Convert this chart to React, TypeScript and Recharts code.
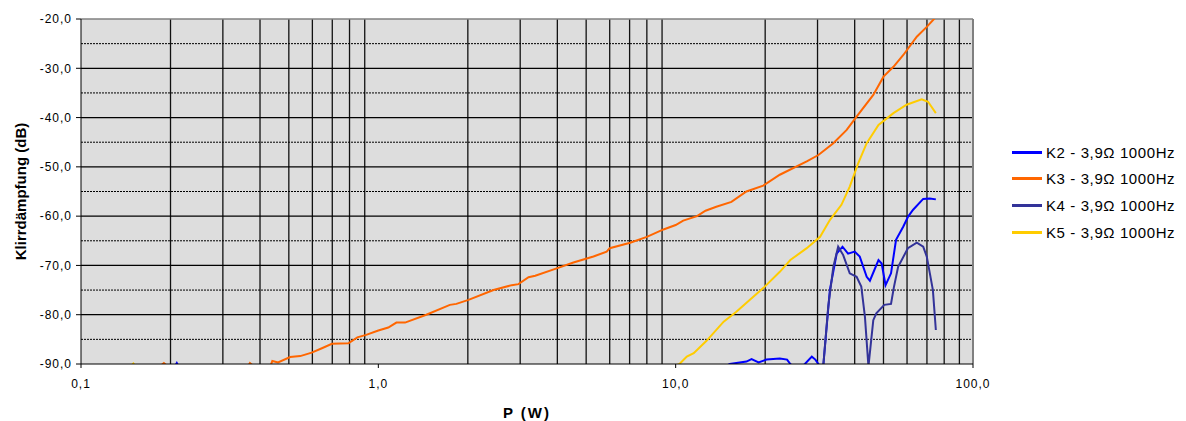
import React from 'react';
import { LineChart, Line, XAxis, YAxis, CartesianGrid, ReferenceLine, Legend } from 'recharts';

// Leistung (W) / Klirrdämpfung (dB)
const k2 = [
    { p: 0.1, db: -96 }, { p: 0.2, db: -92 }, { p: 0.21, db: -89.8 }, { p: 0.22, db: -92 }, { p: 10, db: -96 },
    { p: 15.2, db: -90 }, { p: 17.3, db: -89.5 }, { p: 18, db: -89.0 }, { p: 19, db: -89.7 }, { p: 20.2, db: -89.1 },
    { p: 22.4, db: -88.9 }, { p: 23.7, db: -89.1 }, { p: 24.3, db: -90 }, { p: 25.7, db: -91.5 }, { p: 27.2, db: -90 },
    { p: 28.7, db: -88.5 }, { p: 29.5, db: -89.1 }, { p: 30.2, db: -90 }, { p: 31.0, db: -91 }, { p: 31.4, db: -90 },
    { p: 33, db: -75 }, { p: 34.8, db: -67.6 }, { p: 36.4, db: -66.2 }, { p: 38.0, db: -67.6 }, { p: 40.0, db: -67.2 },
    { p: 41.6, db: -68.2 }, { p: 43.9, db: -72.3 }, { p: 45.0, db: -73.1 }, { p: 48.1, db: -68.9 }, { p: 49.3, db: -69.6 },
    { p: 50.8, db: -74.0 }, { p: 53.0, db: -71.6 }, { p: 55.1, db: -64.8 }, { p: 58.3, db: -62.1 }, { p: 60.5, db: -60.1 },
    { p: 62.9, db: -58.7 }, { p: 68.0, db: -56.5 }, { p: 71.6, db: -56.4 }, { p: 75.0, db: -56.6 },
];

const k3 = [
    { p: 0.1, db: -95 }, { p: 0.18, db: -91 }, { p: 0.19, db: -89.8 }, { p: 0.2, db: -91 }, { p: 0.3, db: -93 },
    { p: 0.36, db: -91 }, { p: 0.37, db: -89.8 }, { p: 0.39, db: -91 }, { p: 0.43, db: -91 }, { p: 0.44, db: -89.4 },
    { p: 0.46, db: -89.7 }, { p: 0.505, db: -88.6 }, { p: 0.546, db: -88.4 }, { p: 0.597, db: -87.7 }, { p: 0.646, db: -86.8 },
    { p: 0.698, db: -85.9 }, { p: 0.793, db: -85.8 }, { p: 0.85, db: -84.6 }, { p: 0.91, db: -84.1 }, { p: 1.0, db: -83.2 },
    { p: 1.08, db: -82.6 }, { p: 1.15, db: -81.6 }, { p: 1.23, db: -81.6 }, { p: 1.45, db: -80.0 }, { p: 1.74, db: -78.0 },
    { p: 1.83, db: -77.8 }, { p: 2.01, db: -77.0 }, { p: 2.44, db: -75.0 }, { p: 2.81, db: -74.0 }, { p: 2.96, db: -73.8 },
    { p: 3.2, db: -72.4 }, { p: 3.37, db: -72.1 }, { p: 3.98, db: -70.6 }, { p: 4.53, db: -69.4 }, { p: 5.29, db: -68.2 },
    { p: 5.86, db: -67.2 }, { p: 6.0, db: -66.5 }, { p: 7.03, db: -65.4 }, { p: 8.0, db: -64.2 }, { p: 9.1, db: -62.7 },
    { p: 10.0, db: -61.8 }, { p: 10.6, db: -60.9 }, { p: 11.8, db: -60.0 }, { p: 12.6, db: -58.9 }, { p: 13.7, db: -58.1 },
    { p: 15.4, db: -57.1 }, { p: 17.3, db: -55.0 }, { p: 19.7, db: -53.8 }, { p: 22.4, db: -51.6 }, { p: 27.6, db: -48.9 },
    { p: 30.2, db: -47.6 }, { p: 33.9, db: -45.2 }, { p: 37.6, db: -42.5 }, { p: 40.6, db: -39.8 }, { p: 46.2, db: -35.4 },
    { p: 50.0, db: -31.7 }, { p: 54.0, db: -29.7 }, { p: 58.3, db: -27.3 }, { p: 64.7, db: -23.6 }, { p: 69.9, db: -21.6 },
    { p: 75.0, db: -19.6 },
];

const k4 = [
    { p: 0.1, db: -97 }, { p: 20, db: -95 }, { p: 30, db: -93 }, { p: 31.4, db: -90 }, { p: 32.6, db: -78.3 },
    { p: 33.9, db: -70.3 }, { p: 35.2, db: -66.2 }, { p: 36.6, db: -67.9 }, { p: 38.5, db: -71.6 }, { p: 40.6, db: -72.3 },
    { p: 42.1, db: -74.3 }, { p: 43.3, db: -80.4 }, { p: 44.5, db: -90.5 }, { p: 46.2, db: -81.1 }, { p: 47.3, db: -79.7 },
    { p: 50.3, db: -78.0 }, { p: 53.0, db: -77.8 }, { p: 54.2, db: -74.4 }, { p: 56.0, db: -70.3 }, { p: 60.4, db: -66.5 },
    { p: 64.7, db: -65.4 }, { p: 68.0, db: -66.2 }, { p: 69.9, db: -68.2 }, { p: 71.6, db: -71.6 }, { p: 73.3, db: -75.0 },
    { p: 75.0, db: -83.1 },
];

const k5 = [
    { p: 0.1, db: -96 }, { p: 0.14, db: -92 }, { p: 0.15, db: -89.9 }, { p: 0.16, db: -92 }, { p: 5, db: -98 },
    { p: 10.3, db: -90 }, { p: 10.9, db: -88.5 }, { p: 11.5, db: -87.8 }, { p: 12.7, db: -85.3 }, { p: 14.5, db: -81.4 },
    { p: 16.0, db: -79.4 }, { p: 19.7, db: -74.6 }, { p: 22.4, db: -71.3 }, { p: 24.3, db: -68.9 }, { p: 27.6, db: -66.5 },
    { p: 30.6, db: -64.2 }, { p: 33.0, db: -60.8 }, { p: 36.1, db: -57.7 }, { p: 38.5, db: -54.0 }, { p: 41.1, db: -49.3 },
    { p: 43.9, db: -45.2 }, { p: 48.1, db: -41.5 }, { p: 54.0, db: -39.1 }, { p: 59.8, db: -37.4 }, { p: 67.2, db: -36.3 },
    { p: 70.6, db: -36.8 }, { p: 75.0, db: -39.1 },
];

const seriesNames = ['K2 - 3,9Ω 1000Hz', 'K3 - 3,9Ω 1000Hz', 'K4 - 3,9Ω 1000Hz', 'K5 - 3,9Ω 1000Hz'];
const seriesColors = ['#0000ff', '#ff6600', '#333399', '#ffcc00'];

const xTicks = [0.1, 1, 10, 100];
const xMinor = [0.2, 0.3, 0.4, 0.5, 0.6, 0.7, 0.8, 0.9, 2, 3, 4, 5, 6, 7, 8, 9, 20, 30, 40, 50, 60, 70, 80, 90];
const yTicks = [-90, -80, -70, -60, -50, -40, -30, -20];
const yMinor = [-85, -75, -65, -55, -45, -35, -25];

const font = 'Arial, "Liberation Sans", sans-serif';
const fmt = (v: number) => v.toFixed(1).replace('.', ',');
const tickStyle = { fill: '#000', fontSize: 12, fontFamily: font, letterSpacing: 1 };

const LegendBox = () => (
    <div style={{ fontFamily: font, fontSize: 15, letterSpacing: 0.6, color: '#000' }}>
        {seriesNames.map((name, i) => (
            <div key={name} style={{ display: 'flex', alignItems: 'center', height: 26.6, whiteSpace: 'nowrap' }}>
                <span style={{ display: 'inline-block', width: 30, height: 3, background: seriesColors[i], marginRight: 4 }} />
                <span>{name}</span>
            </div>
        ))}
    </div>
);

export default function App() {
    const all = [k2, k3, k4, k5];
    return (
        <LineChart width={1170} height={413} margin={{ top: 11, right: 205, bottom: 0, left: 0 }}>
            <CartesianGrid horizontal={false} vertical={false} fill="#dddddd" />
            {xMinor.map((v) => (
                <ReferenceLine key={'x' + v} x={v} stroke="#111" strokeWidth={1.3} />
            ))}
            {yMinor.map((v) => (
                <ReferenceLine key={'ym' + v} y={v} stroke="#000" strokeDasharray="2 1" strokeWidth={1} />
            ))}
            {yTicks.slice(1, -1).map((v) => (
                <ReferenceLine key={'y' + v} y={v} stroke="#000" strokeWidth={1.3} />
            ))}
            <ReferenceLine y={-20} stroke="#808080" strokeWidth={1.5} />
            <ReferenceLine x={100} stroke="#808080" strokeWidth={2} />
            <XAxis
                dataKey="p"
                type="number"
                scale="log"
                domain={[0.1, 100]}
                ticks={xTicks}
                allowDataOverflow
                tickFormatter={fmt}
                height={57}
                tickSize={4}
                tickMargin={11}
                stroke="#000"
                tick={tickStyle}
                label={{ value: 'P (W)', position: 'insideBottom', offset: 3, style: { fontFamily: font, fontSize: 15, letterSpacing: 2, fontWeight: 'bold', fill: '#000' } }}
            />
            <YAxis
                type="number"
                domain={[-90, -20]}
                ticks={yTicks}
                allowDataOverflow
                tickFormatter={fmt}
                width={73}
                tickSize={5}
                tickMargin={4}
                stroke="#000"
                tick={tickStyle}
                label={{ value: 'Klirrdämpfung (dB)', angle: -90, position: 'insideLeft', offset: 13, style: { textAnchor: 'middle', fontFamily: font, fontSize: 15, fontWeight: 'bold', fill: '#000' } }}
            />
            {all.map((d, i) => (
                <Line
                    key={seriesNames[i]}
                    data={d}
                    dataKey="db"
                    name={seriesNames[i]}
                    stroke={seriesColors[i]}
                    strokeWidth={2}
                    dot={false}
                    type="linear"
                    isAnimationActive={false}
                />
            ))}
            <Legend
                layout="vertical"
                align="center"
                verticalAlign="middle"
                content={() => <LegendBox />}
                wrapperStyle={{ position: 'absolute', left: 1004, top: 131, width: 178 }}
            />
        </LineChart>
    );
}
